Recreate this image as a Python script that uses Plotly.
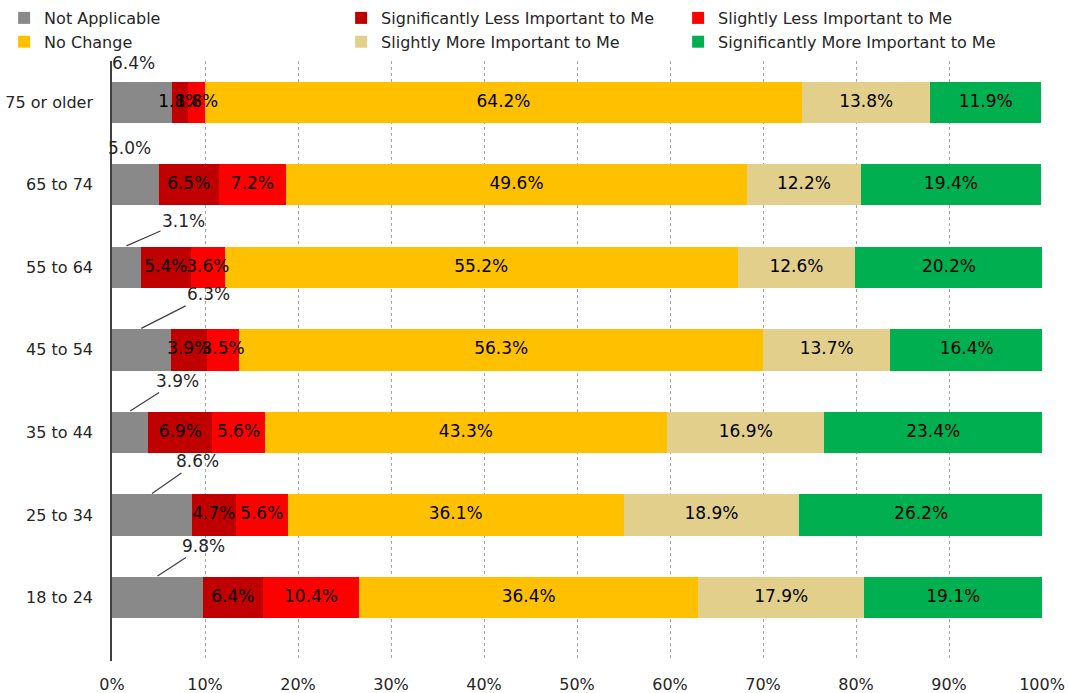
import plotly.graph_objects as go

categories = ["75 or older", "65 to 74", "55 to 64", "45 to 54", "35 to 44", "25 to 34", "18 to 24"]
series_names = ["Not Applicable", "Significantly Less Important to Me", "Slightly Less Important to Me",
                "No Change", "Slightly More Important to Me", "Significantly More Important to Me"]
not_applicable = [6.4, 5.0, 3.1, 6.3, 3.9, 8.6, 9.8]
sig_less = [1.8, 6.5, 5.4, 3.9, 6.9, 4.7, 6.4]
slight_less = [1.8, 7.2, 3.6, 3.5, 5.6, 5.6, 10.4]
no_change = [64.2, 49.6, 55.2, 56.3, 43.3, 36.1, 36.4]
slight_more = [13.8, 12.2, 12.6, 13.7, 16.9, 18.9, 17.9]
sig_more = [11.9, 19.4, 20.2, 16.4, 23.4, 26.2, 19.1]
x_ticks = [0, 10, 20, 30, 40, 50, 60, 70, 80, 90, 100]
x_tick_labels = ["0%", "10%", "20%", "30%", "40%", "50%", "60%", "70%", "80%", "90%", "100%"]

colors = ["#898989", "#C00000", "#FF0000", "#FFC000", "#E3CF8C", "#00B050"]
values = [not_applicable, sig_less, slight_less, no_change, slight_more, sig_more]

FONT = "DejaVu Sans"
fig = go.Figure()
for name, vals, col in zip(series_names, values, colors):
    fig.add_trace(go.Bar(
        y=categories, x=vals, name=name, orientation="h",
        marker=dict(color=col, line=dict(width=0)),
        hoverinfo="skip",
    ))

# segment labels (drawn above all bars, so overlapping labels stay visible)
lab_x, lab_y, lab_t = [], [], []
for r, cat in enumerate(categories):
    cum = values[0][r]
    for vals in values[1:]:
        v = vals[r]
        lab_x.append(cum + v / 2)
        lab_y.append(cat)
        lab_t.append(f"{v:.1f}%")
        cum += v
fig.add_trace(go.Scatter(
    x=lab_x, y=lab_y, text=lab_t, mode="text", showlegend=False,
    textfont=dict(family=FONT, size=17, color="#000000"),
    textposition="middle center", hoverinfo="skip", cliponaxis=False,
))

# callout labels for Not Applicable (offsets in px)
offsets = [(-8, -18, False), (-6, -15, False), (57, -25, True), (67, -34, True),
           (47, -30, True), (46, -32, True), (46, -30, True)]
for cat, v, (ax, ay, arrow) in zip(categories, not_applicable, offsets):
    fig.add_annotation(
        x=v / 2, y=cat, yshift=21.5, text=f"{v:.1f}%",
        showarrow=True, arrowhead=0, arrowwidth=1.2,
        arrowcolor="#404040" if arrow else "rgba(0,0,0,0)",
        ax=ax, ay=ay, font=dict(family=FONT, size=17, color="#262626"),
        standoff=0, startstandoff=0,
    )

fig.update_layout(
    barmode="stack", bargap=0.5,
    width=1069, height=693,
    margin=dict(l=112, r=27, t=61, b=32, autoexpand=False),
    plot_bgcolor="white", paper_bgcolor="white",
    font=dict(family=FONT, size=16, color="#262626"),
    legend=dict(orientation="h", x=-0.116, y=1.1, xanchor="left", yanchor="top",
                entrywidth=292, entrywidthmode="pixels",
                font=dict(family=FONT, size=16, color="#262626"), traceorder="normal",
                itemclick=False, itemdoubleclick=False, bgcolor="rgba(0,0,0,0)",
                itemwidth=30, tracegroupgap=0),
    xaxis=dict(range=[0, 100], tickvals=x_ticks, ticktext=x_tick_labels,
               showgrid=True, gridcolor="#A6A6A6", griddash="dot", gridwidth=1,
               zeroline=False, showline=False, ticks="", ticklabelstandoff=12,
               tickfont=dict(family=FONT, size=16, color="#262626")),
    yaxis=dict(categoryorder="array", categoryarray=categories, autorange="reversed",
               showline=True, linecolor="#404040", linewidth=1.5, showgrid=False,
               ticks="", ticklabelstandoff=14,
               tickfont=dict(family=FONT, size=16, color="#262626")),
)

fig.write_html("out.html", config={"displayModeBar": False},
               post_script="document.body.style.margin='0';")
